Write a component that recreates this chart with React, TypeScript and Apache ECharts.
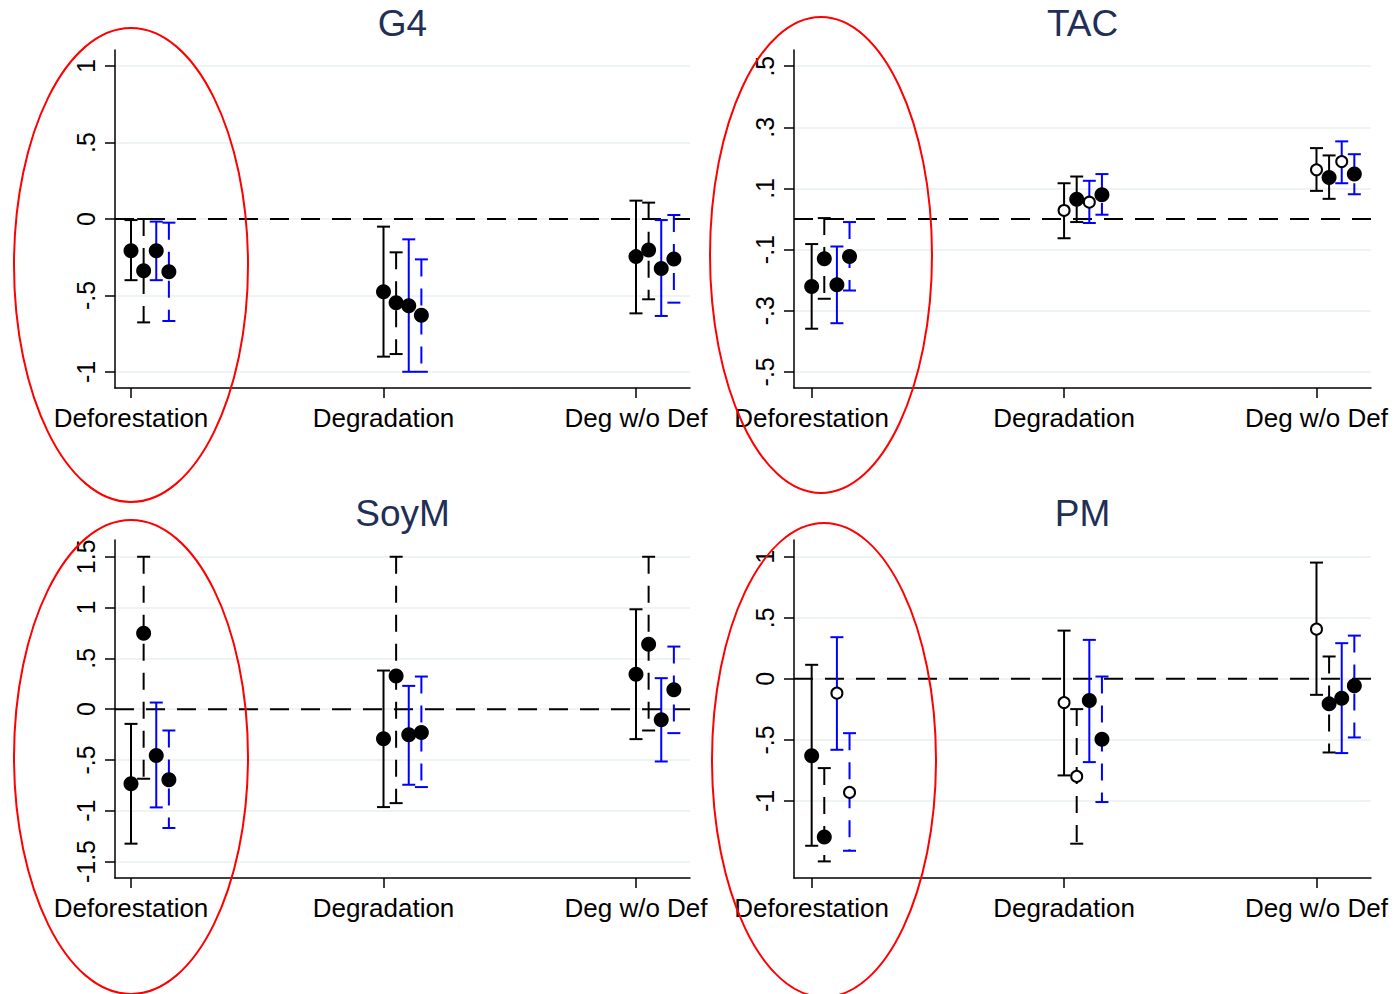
import React, { useEffect, useRef } from "react";
import * as echarts from "echarts";

// Outcome groups on the x axis
const categories = ["Deforestation", "Degradation", "Deg w/o Def"];
const panelTitles = ["G4", "TAC", "SoyM", "PM"];

// Each table: one row per category, one column per specification (1..4)
const g4Est = [[-0.207, -0.338, -0.207, -0.345], [-0.475, -0.547, -0.567, -0.63], [-0.246, -0.203, -0.323, -0.262]];
const g4Lo = [[-0.40, -0.676, -0.40, -0.667], [-0.90, -0.883, -0.999, -0.999], [-0.617, -0.525, -0.634, -0.547]];
const g4Hi = [[-0.007, 0.0, -0.017, -0.024], [-0.05, -0.218, -0.133, -0.264], [0.12, 0.107, -0.007, 0.026]];
const g4Hollow = [[0, 0, 0, 0], [0, 0, 0, 0], [0, 0, 0, 0]];

const tacEst = [[-0.221, -0.13, -0.215, -0.123], [0.028, 0.065, 0.055, 0.079], [0.161, 0.136, 0.188, 0.147]];
const tacLo = [[-0.359, -0.261, -0.341, -0.234], [-0.063, -0.01, -0.013, 0.014], [0.092, 0.066, 0.117, 0.081]];
const tacHi = [[-0.082, 0.003, -0.09, -0.01], [0.117, 0.139, 0.125, 0.147], [0.232, 0.208, 0.254, 0.212]];
const tacHollow = [[0, 0, 0, 0], [1, 0, 1, 0], [1, 0, 1, 0]];

const soyEst = [[-0.734, 0.747, -0.456, -0.695], [-0.292, 0.327, -0.253, -0.23], [0.344, 0.639, -0.105, 0.19]];
const soyLo = [[-1.324, -0.685, -0.967, -1.17], [-0.964, -0.925, -0.744, -0.767], [-0.295, -0.21, -0.515, -0.236]];
const soyHi = [[-0.145, 1.5, 0.065, -0.21], [0.38, 1.5, 0.229, 0.321], [0.983, 1.5, 0.305, 0.616]];
const soyHollow = [[0, 0, 0, 0], [0, 0, 0, 0], [0, 0, 0, 0]];

const pmEst = [[-0.63, -1.296, -0.117, -0.93], [-0.194, -0.799, -0.177, -0.494], [0.407, -0.205, -0.158, -0.057]];
const pmLo = [[-1.367, -1.495, -0.581, -1.408], [-0.791, -1.35, -0.682, -1.009], [-0.131, -0.603, -0.608, -0.48]];
const pmHi = [[0.115, -0.731, 0.341, -0.445], [0.395, -0.248, 0.319, 0.019], [0.952, 0.183, 0.292, 0.354]];
const pmHollow = [[0, 0, 1, 1], [1, 1, 0, 0], [1, 0, 0, 0]];

// y-axis tick values and ranges
const g4Ticks = [-1, -0.5, 0, 0.5, 1];
const tacTicks = [-0.5, -0.3, -0.1, 0.1, 0.3, 0.5];
const soyTicks = [-1.5, -1, -0.5, 0, 0.5, 1, 1.5];
const pmTicks = [-1, -0.5, 0, 0.5, 1];
const g4Range = [-1.105, 1.105];
const tacRange = [-0.553, 0.553];
const soyRange = [-1.662, 1.665];
const pmRange = [-1.631, 1.137];

const FONT = "'Liberation Sans', Arial, Helvetica, sans-serif";
const specColors = ["#000000", "#000000", "#0000ff", "#0000ff"];
const specDashed = [false, true, false, true];
const specOffsets = [0, 0.05, 0.1, 0.15];

const panels = [
  { title: panelTitles[0], est: g4Est, lo: g4Lo, hi: g4Hi, hollow: g4Hollow, ticks: g4Ticks, range: g4Range },
  { title: panelTitles[1], est: tacEst, lo: tacLo, hi: tacHi, hollow: tacHollow, ticks: tacTicks, range: tacRange },
  { title: panelTitles[2], est: soyEst, lo: soyLo, hi: soyHi, hollow: soyHollow, ticks: soyTicks, range: soyRange },
  { title: panelTitles[3], est: pmEst, lo: pmLo, hi: pmHi, hollow: pmHollow, ticks: pmTicks, range: pmRange },
];

// Panel frames (pixels) and x extents in category units
const gridBoxes = [
  { left: 115, top: 50, width: 575, height: 338, xmin: 0.9366, xmax: 3.2139 },
  { left: 794, top: 50, width: 577, height: 338, xmin: 0.93, xmax: 3.216 },
  { left: 115, top: 540, width: 575, height: 338, xmin: 0.9366, xmax: 3.2139 },
  { left: 794, top: 540, width: 577, height: 338, xmin: 0.93, xmax: 3.216 },
];

function stataLabel(v: number): string {
  if (v === 0) return "0";
  const s = String(Math.round(v * 100) / 100);
  return s.replace(/^0\./, ".").replace(/^-0\./, "-.");
}

export default function App() {
  const ref = useRef<HTMLDivElement>(null);

  useEffect(() => {
    document.body.style.margin = "0";
    if (!ref.current) return;
    const chart = echarts.init(ref.current, null, { renderer: "svg" });

    const grid: any[] = [];
    const xAxis: any[] = [];
    const yAxis: any[] = [];
    const series: any[] = [];
    const graphic: any[] = [];

    panels.forEach((p, pi) => {
      const g = gridBoxes[pi];
      grid.push({ left: g.left, top: g.top, width: g.width, height: g.height, containLabel: false });

      // panel title
      graphic.push({
        type: "text",
        x: g.left + g.width / 2,
        y: g.top - 27,
        silent: true,
        style: {
          text: p.title,
          textAlign: "center",
          textVerticalAlign: "middle",
          fontFamily: FONT,
          fontSize: 37,
          fill: "#1f2f55",
        },
      });

      xAxis.push({
        type: "value",
        gridIndex: pi,
        min: g.xmin,
        max: g.xmax,
        axisLine: { show: true, onZero: false, lineStyle: { color: "#000", width: 1.5 } },
        axisTick: { show: true, length: 10, customValues: [1, 2, 3], lineStyle: { color: "#000", width: 1.5 } },
        axisLabel: {
          customValues: [1, 2, 3],
          formatter: (v: number) => categories[Math.round(v) - 1] || "",
          fontFamily: FONT,
          fontSize: 26,
          color: "#000",
          margin: 17,
        },
        splitLine: { show: false },
      });

      yAxis.push({
        type: "value",
        gridIndex: pi,
        min: p.range[0],
        max: p.range[1],
        axisLine: { show: true, onZero: false, lineStyle: { color: "#000", width: 1.5 } },
        axisTick: { show: true, length: 10, customValues: p.ticks, lineStyle: { color: "#000", width: 1.5 } },
        axisLabel: {
          customValues: p.ticks,
          formatter: (v: number) => stataLabel(v),
          rotate: 90,
          fontFamily: FONT,
          fontSize: 25,
          color: "#000",
          margin: 17,
        },
        splitLine: { show: true, lineStyle: { color: "#e8eff1", width: 1.5 } },
      });

      // zero reference line
      series.push({
        type: "line",
        xAxisIndex: pi,
        yAxisIndex: pi,
        data: [[g.xmin, 0], [g.xmax, 0]],
        symbol: "none",
        lineStyle: { color: "#000", width: 2, type: [19, 12] },
        z: 1,
        silent: true,
      });

      for (let s = 0; s < 4; s++) {
        const barData = categories.map((_, ci) => [ci + 1 + specOffsets[s], p.lo[ci][s], p.hi[ci][s]]);
        const color = specColors[s];
        const dashed = specDashed[s];
        series.push({
          type: "custom",
          xAxisIndex: pi,
          yAxisIndex: pi,
          data: barData,
          encode: { x: 0, y: [1, 2] },
          z: 2,
          silent: true,
          renderItem: (_params: any, api: any) => {
            const x = api.value(0);
            const pLo = api.coord([x, api.value(1)]);
            const pHi = api.coord([x, api.value(2)]);
            const hw = 6.5;
            return {
              type: "group",
              children: [
                {
                  type: "line",
                  shape: { x1: pHi[0], y1: pHi[1], x2: pLo[0], y2: pLo[1] },
                  style: { stroke: color, lineWidth: 2, lineDash: dashed ? [17, 12] : null },
                },
                { type: "line", shape: { x1: pLo[0] - hw, y1: pLo[1], x2: pLo[0] + hw, y2: pLo[1] }, style: { stroke: color, lineWidth: 2 } },
                { type: "line", shape: { x1: pHi[0] - hw, y1: pHi[1], x2: pHi[0] + hw, y2: pHi[1] }, style: { stroke: color, lineWidth: 2 } },
              ],
            };
          },
        });
      }

      for (let s = 0; s < 4; s++) {
        const pts = categories.map((_, ci) => {
          const hollow = p.hollow[ci][s] === 1;
          return {
            value: [ci + 1 + specOffsets[s], p.est[ci][s]],
            symbolSize: hollow ? 11 : 15,
            itemStyle: hollow
              ? { color: "#fff", borderColor: "#000", borderWidth: 2, opacity: 1 }
              : { color: "#000", borderWidth: 0, opacity: 1 },
          };
        });
        series.push({
          type: "scatter",
          xAxisIndex: pi,
          yAxisIndex: pi,
          data: pts,
          symbol: "circle",
          itemStyle: { opacity: 1 },
          z: 3,
          silent: true,
        });
      }
    });

    // red highlight ellipses around the Deforestation groups
    const ellipses = [
      { cx: 131, cy: 265, rx: 117, ry: 237 },
      { cx: 821, cy: 255, rx: 111, ry: 238 },
      { cx: 131, cy: 757, rx: 117, ry: 237 },
      { cx: 824, cy: 760, rx: 112, ry: 237 },
    ];
    ellipses.forEach((e) =>
      graphic.push({
        type: "ellipse",
        shape: e,
        style: { fill: "none", stroke: "#ff0000", lineWidth: 2 },
        z: 100,
        silent: true,
      })
    );

    chart.setOption({
      animation: false,
      backgroundColor: "#ffffff",
      grid,
      xAxis,
      yAxis,
      series,
      graphic,
    });

    return () => chart.dispose();
  }, []);

  return <div ref={ref} style={{ width: 1398, height: 994 }} />;
}
